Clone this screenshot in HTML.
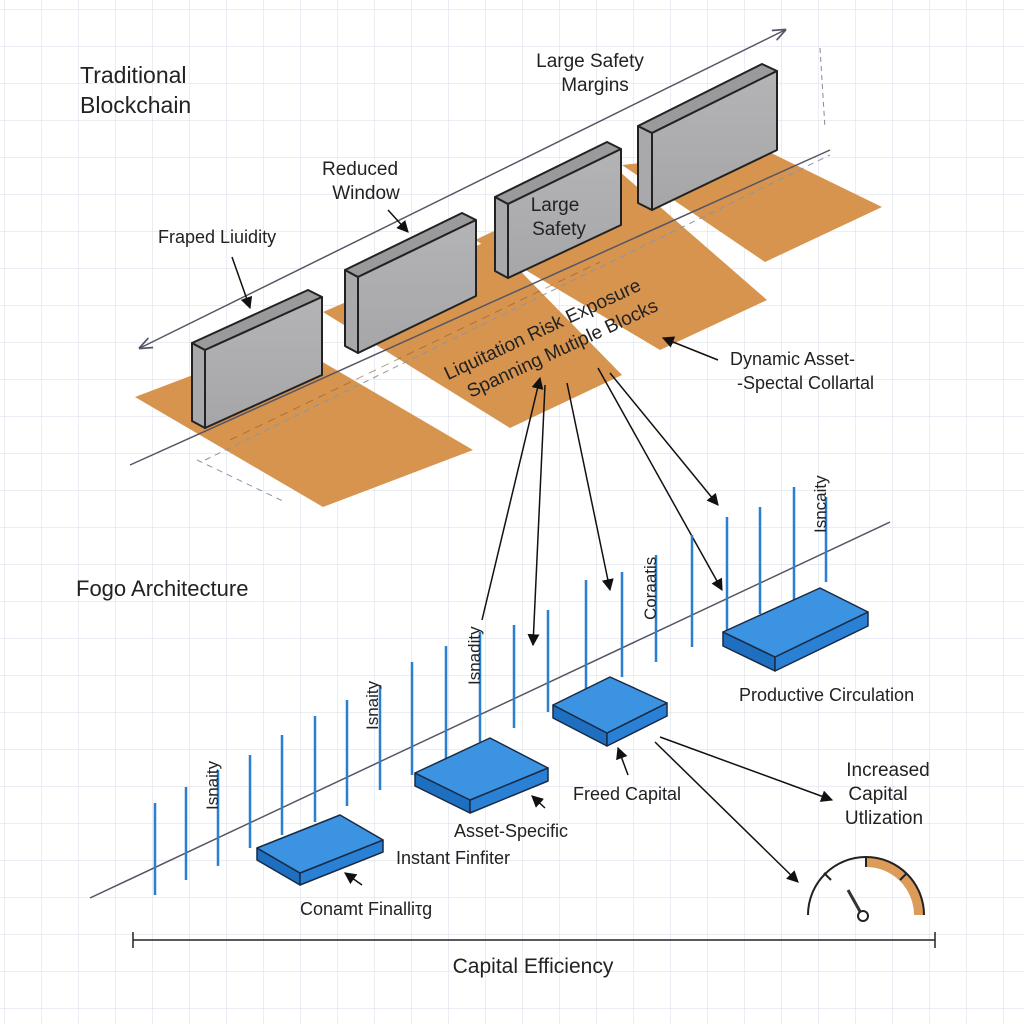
<!DOCTYPE html>
<html><head><meta charset="utf-8"><style>
html,body{margin:0;padding:0;background:#fff}
svg{display:block}
text{font-family:"Liberation Sans",sans-serif;fill:#222}
</style></head><body>
<svg width="1024" height="1024" viewBox="0 0 1024 1024" xmlns="http://www.w3.org/2000/svg">
<defs>
<pattern id="g" width="37" height="37" patternUnits="userSpaceOnUse" x="5" y="10">
<path d="M37 0V37M0 37H37" fill="none" stroke="#d6dcea" stroke-width="1"/>
</pattern>
<marker id="ah" viewBox="0 0 10 10" refX="9" refY="5" markerWidth="8" markerHeight="8" orient="auto-start-reverse"><path d="M0 0L10 5L0 10z" fill="#111"/></marker>
<marker id="ao" viewBox="0 0 10 10" refX="9" refY="5" markerWidth="9" markerHeight="9" orient="auto-start-reverse"><path d="M0 1L10 5L0 9" fill="none" stroke="#556" stroke-width="1.3"/></marker>
<linearGradient id="wg" x1="0" y1="0" x2="0" y2="1"><stop offset="0" stop-color="#b4b4b6"/><stop offset="1" stop-color="#a6a6a8"/></linearGradient>
</defs>
<rect width="1024" height="1024" fill="url(#g)"/>

<text x="80" y="83" font-size="23">Traditional</text>
<text x="80" y="113" font-size="23">Blockchain</text>
<line x1="140" y1="348" x2="785" y2="30" stroke="#556" stroke-width="1.5" marker-start="url(#ao)" marker-end="url(#ao)"/>
<line x1="820" y1="48" x2="825" y2="128" stroke="#889" stroke-dasharray="5 4"/>

<g fill="#d6944f">
<polygon points="135,397 285,340 473,450 323,507"/>
<polygon points="323,312 490,240 622,375 510,428"/>
<polygon points="475,240 620,172 767,300 660,350"/>
<polygon points="622,165 765,150 882,207 765,262"/>
</g>
<line x1="130" y1="465" x2="830" y2="150" stroke="#556" stroke-width="1.5"/>
<line x1="205" y1="460" x2="830" y2="155" stroke="#8895aa" stroke-width="1" stroke-dasharray="6 5"/>
<line x1="197" y1="460" x2="285" y2="502" stroke="#8895aa" stroke-width="1" stroke-dasharray="6 5"/>
<line x1="230" y1="440" x2="600" y2="262" stroke="#8a5a30" stroke-width="1" stroke-dasharray="8 6" opacity=".6"/>

<g stroke="#222" stroke-width="2" stroke-linejoin="round">
<g><polygon points="192,343 205,350 205,428 192,421" fill="#a9a9ab"/><polygon points="192,343 308,290 322,297 205,350" fill="#9a9a9c"/><polygon points="205,350 322,297 322,375 205,428" fill="url(#wg)"/></g>
<g><polygon points="345,270 358,277 358,353 345,346" fill="#a9a9ab"/><polygon points="345,270 462,213 476,220 358,277" fill="#9a9a9c"/><polygon points="358,277 476,220 476,296 358,353" fill="url(#wg)"/></g>
<g><polygon points="495,197 508,204 508,278 495,271" fill="#a9a9ab"/><polygon points="495,197 607,142 621,149 508,204" fill="#9a9a9c"/><polygon points="508,204 621,149 621,225 508,278" fill="url(#wg)"/></g>
<g><polygon points="638,126 652,133 652,210 638,203" fill="#a9a9ab"/><polygon points="638,126 762,64 777,71 652,133" fill="#9a9a9c"/><polygon points="652,133 777,71 777,150 652,210" fill="url(#wg)"/></g>
</g>

<text x="590" y="67" font-size="19" text-anchor="middle">Large Safety</text>
<text x="595" y="91" font-size="19" text-anchor="middle">Margins</text>
<text x="360" y="175" font-size="19" text-anchor="middle">Reduced</text>
<text x="366" y="199" font-size="19" text-anchor="middle">Window</text>
<line x1="388" y1="210" x2="408" y2="232" stroke="#111" stroke-width="1.5" marker-end="url(#ah)"/>
<text x="158" y="243" font-size="18">Fraped Liuidity</text>
<line x1="232" y1="257" x2="250" y2="308" stroke="#111" stroke-width="1.5" marker-end="url(#ah)"/>
<text x="555" y="211" font-size="19" text-anchor="middle">Large</text>
<text x="559" y="235" font-size="19" text-anchor="middle">Safety</text>
<text x="545" y="335" font-size="19" text-anchor="middle" transform="rotate(-25 545 335)">Liquitation Risk Exposure</text>
<text x="565" y="354" font-size="19" text-anchor="middle" transform="rotate(-25 565 354)">Spanning Mutiple Blocks</text>
<text x="730" y="365" font-size="18">Dynamic Asset-</text>
<text x="737" y="389" font-size="18">-Spectal Collartal</text>
<line x1="718" y1="360" x2="663" y2="338" stroke="#111" stroke-width="1.5" marker-end="url(#ah)"/>

<g stroke="#111" stroke-width="1.5" fill="none">
<line x1="482" y1="620" x2="540" y2="378" marker-end="url(#ah)"/>
<line x1="545" y1="385" x2="533" y2="645" marker-end="url(#ah)"/>
<line x1="567" y1="383" x2="610" y2="590" marker-end="url(#ah)"/>
<line x1="598" y1="368" x2="722" y2="590" marker-end="url(#ah)"/>
<line x1="610" y1="373" x2="718" y2="505" marker-end="url(#ah)"/>
</g>

<text x="76" y="596" font-size="22">Fogo Architecture</text>
<line x1="90" y1="898" x2="890" y2="522" stroke="#556" stroke-width="1.5"/>
<g stroke="#2a7fd0" stroke-width="2.5">
<line x1="155" y1="803" x2="155" y2="895"/>
<line x1="186" y1="787" x2="186" y2="880"/>
<line x1="218" y1="770" x2="218" y2="866"/>
<line x1="250" y1="755" x2="250" y2="848"/>
<line x1="282" y1="735" x2="282" y2="835"/>
<line x1="315" y1="716" x2="315" y2="822"/>
<line x1="347" y1="700" x2="347" y2="806"/>
<line x1="380" y1="685" x2="380" y2="790"/>
<line x1="412" y1="662" x2="412" y2="775"/>
<line x1="446" y1="646" x2="446" y2="760"/>
<line x1="480" y1="632" x2="480" y2="742"/>
<line x1="514" y1="625" x2="514" y2="728"/>
<line x1="548" y1="610" x2="548" y2="712"/>
<line x1="586" y1="580" x2="586" y2="692"/>
<line x1="622" y1="572" x2="622" y2="677"/>
<line x1="656" y1="555" x2="656" y2="662"/>
<line x1="692" y1="535" x2="692" y2="647"/>
<line x1="727" y1="517" x2="727" y2="630"/>
<line x1="760" y1="507" x2="760" y2="614"/>
<line x1="794" y1="487" x2="794" y2="600"/>
<line x1="826" y1="497" x2="826" y2="582"/>
</g>

<g stroke="#1a2a44" stroke-width="1.5" stroke-linejoin="round">
<g><polygon points="257,848 300,873 300,885 257,860" fill="#1f6fc0"/><polygon points="300,873 383,840 383,852 300,885" fill="#2a80d4"/><polygon points="257,848 340,815 383,840 300,873" fill="#3b93e2"/></g>
<g><polygon points="415,773 470,800 470,813 415,786" fill="#1f6fc0"/><polygon points="470,800 548,768 548,781 470,813" fill="#2a80d4"/><polygon points="415,773 490,738 548,768 470,800" fill="#3b93e2"/></g>
<g><polygon points="553,705 607,733 607,746 553,718" fill="#1f6fc0"/><polygon points="607,733 667,703 667,716 607,746" fill="#2a80d4"/><polygon points="553,705 610,677 667,703 607,733" fill="#3b93e2"/></g>
<g><polygon points="723,632 775,657 775,671 723,646" fill="#1f6fc0"/><polygon points="775,657 868,612 868,626 775,671" fill="#2a80d4"/><polygon points="723,632 820,588 868,612 775,657" fill="#3b93e2"/></g>
</g>

<g font-size="17">
<text x="218" y="810" transform="rotate(-90 218 810)">Isnaity</text>
<text x="378" y="730" transform="rotate(-90 378 730)">Isnaity</text>
<text x="480" y="685" transform="rotate(-90 480 685)">Isnadity</text>
<text x="656" y="620" transform="rotate(-90 656 620)">Coraatis</text>
<text x="826" y="533" transform="rotate(-90 826 533)">Isncaity</text>
</g>
<text x="739" y="701" font-size="18">Productive Circulation</text>
<text x="573" y="800" font-size="18">Freed Capital</text>
<line x1="628" y1="775" x2="618" y2="748" stroke="#111" stroke-width="1.5" marker-end="url(#ah)"/>
<text x="454" y="837" font-size="18">Asset-Specific</text>
<text x="396" y="864" font-size="18">Instant Finfiter</text>
<line x1="545" y1="808" x2="532" y2="796" stroke="#111" stroke-width="1.5" marker-end="url(#ah)"/>
<text x="300" y="915" font-size="18">Conamt Finalliτg</text>
<line x1="362" y1="885" x2="345" y2="873" stroke="#111" stroke-width="1.5" marker-end="url(#ah)"/>
<text x="888" y="776" font-size="19" text-anchor="middle">Increased</text>
<text x="878" y="800" font-size="19" text-anchor="middle">Capital</text>
<text x="884" y="824" font-size="19" text-anchor="middle">Utlization</text>
<line x1="660" y1="737" x2="832" y2="800" stroke="#111" stroke-width="1.5" marker-end="url(#ah)"/>
<line x1="655" y1="742" x2="798" y2="882" stroke="#111" stroke-width="1.5" marker-end="url(#ah)"/>

<path d="M866 867 A48 48 0 0 1 914 915 L924 915 A58 58 0 0 0 866 857 Z" fill="#dc9b58"/>
<path d="M808 915 A58 58 0 0 1 924 915" fill="none" stroke="#222" stroke-width="2"/>
<g stroke="#222" stroke-width="2"><line x1="824" y1="873" x2="831" y2="880"/><line x1="866" y1="857" x2="866" y2="867"/><line x1="907" y1="873" x2="900" y2="880"/></g>
<line x1="848" y1="890" x2="862" y2="915" stroke="#333" stroke-width="3"/>
<circle cx="863" cy="916" r="5" fill="#fff" stroke="#222" stroke-width="2"/>

<line x1="133" y1="940" x2="935" y2="940" stroke="#222" stroke-width="1.5"/>
<line x1="133" y1="932" x2="133" y2="948" stroke="#222" stroke-width="1.5"/>
<line x1="935" y1="932" x2="935" y2="948" stroke="#222" stroke-width="1.5"/>
<text x="533" y="973" font-size="21" text-anchor="middle">Capital Efficiency</text>
</svg>
</body></html>
